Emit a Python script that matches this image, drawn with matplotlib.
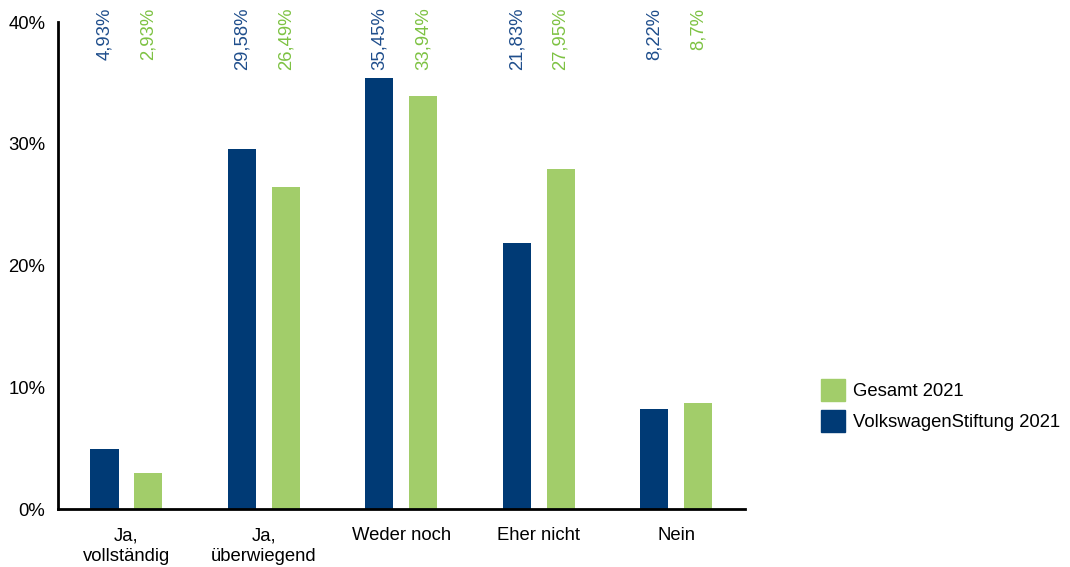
import matplotlib
matplotlib.use("Agg")
import matplotlib.pyplot as plt
import numpy as np
from matplotlib.patches import Patch

categories = ["Ja,\nvollständig", "Ja,\nüberwiegend", "Weder noch", "Eher nicht", "Nein"]
vw_values = [4.93, 29.58, 35.45, 21.83, 8.22]
gesamt_values = [2.93, 26.49, 33.94, 27.95, 8.7]
yticks = [0, 10, 20, 30, 40]

blue = "#003A75"
green = "#A2CD6A"
blue_text = "#1F4E8C"
green_text = "#7DC242"

plt.rcParams["font.family"] = ["Liberation Sans", "DejaVu Sans"]
fs = 13.3

fig = plt.figure(figsize=(10.7, 5.67), dpi=100)
ax = fig.add_axes([0.054, 0.102, 0.642, 0.859])

x = np.arange(len(categories))
w = 0.204
off = 0.16
ax.bar(x - off, vw_values, width=w, color=blue)
ax.bar(x + off, gesamt_values, width=w, color=green)

def fmt(v):
    s = f"{v:.2f}".rstrip("0").rstrip(".")
    return s.replace(".", ",") + "%"

for xi, v in zip(x, vw_values):
    ax.text(xi - off, 1.03, fmt(v), transform=ax.get_xaxis_transform(),
            rotation=90, ha="center", va="top", color=blue_text, fontsize=fs)
for xi, v in zip(x, gesamt_values):
    ax.text(xi + off, 1.03, fmt(v), transform=ax.get_xaxis_transform(),
            rotation=90, ha="center", va="top", color=green_text, fontsize=fs)

ax.set_xlim(-0.5, 4.5)
ax.set_ylim(0, 40)
ax.set_yticks(yticks)
ax.set_yticklabels([f"{t}%" for t in yticks], fontsize=fs)
ax.set_xticks(x)
ax.set_xticklabels(categories, fontsize=fs, linespacing=1.3)
ax.tick_params(axis="y", length=0, pad=9)
ax.tick_params(axis="x", length=0, pad=13)
for s in ["top", "right"]:
    ax.spines[s].set_visible(False)
ax.spines["left"].set_linewidth(2)
ax.spines["bottom"].set_linewidth(2)

handles = [Patch(color=green, label="Gesamt 2021"),
           Patch(color=blue, label="VolkswagenStiftung 2021")]
fig.legend(handles=handles, loc="center left", bbox_to_anchor=(0.752, 0.285),
           frameon=False, fontsize=fs, handlelength=1.3, handleheight=1.5,
           handletextpad=0.4, labelspacing=0.45)

fig.savefig("out.png", dpi=100)
